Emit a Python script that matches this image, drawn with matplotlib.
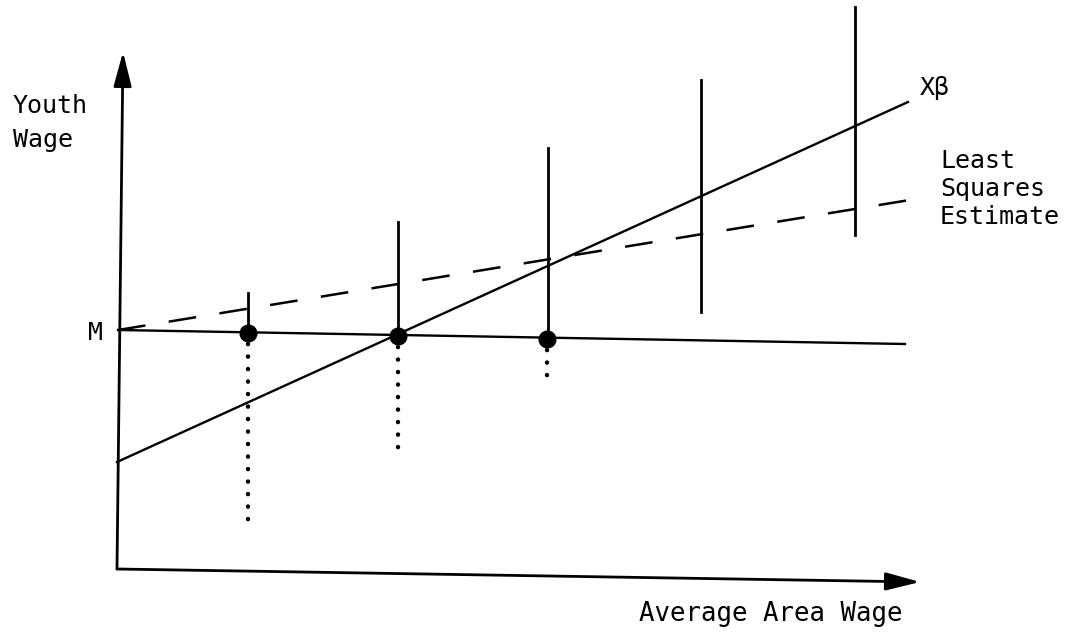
import matplotlib
matplotlib.use('Agg')
import matplotlib.pyplot as plt
from matplotlib.patches import FancyArrowPatch

plt.rcParams['font.family'] = ['DejaVu Sans Mono']
plt.rcParams['lines.scale_dashes'] = False

# axis ends (origin at the corner of the axes)
y_axis_top = (6, 517)
x_axis_end = (803, -13)

# flat line from M
m_line_x = [1, 788]
m_line_y = [239, 225]

# X-beta line
xb_x = [0, 791]
xb_y = [107, 467]

# least squares estimate (dashed)
ls_x = [1, 811]
ls_y = [239, 372]

# observed ranges (vertical bars)
bar_x = [131, 281, 431, 584, 738]
bar_top = [276, 347, 421, 489, 562]
bar_bottom = [236, 233, 230, 257, 334]

# censored points and their hidden (dotted) parts
dot_x = [131, 281, 430]
dot_y = [236, 233, 230]
dotted_low = [44, 119, 191]

fig = plt.figure(figsize=(10.76, 6.36), dpi=100)
ax = fig.add_axes([0, 0, 1, 1])
ax.set_xlim(-117, 959)
ax.set_ylim(-67, 569)
ax.axis('off')

# axes with arrowheads
for end in [y_axis_top, x_axis_end]:
    arr = FancyArrowPatch((0, 0), end, arrowstyle='-|>,head_length=21,head_width=5.5',
                          mutation_scale=1, lw=2.0, color='black',
                          shrinkA=0, shrinkB=0, transform=ax.transData)
    ax.add_patch(arr)

ax.plot(m_line_x, m_line_y, color='black', lw=1.7)
ax.plot(xb_x, xb_y, color='black', lw=1.7)
ls_line, = ax.plot(ls_x, ls_y, color='black', lw=1.8)
ls_line.set_dashes([20, 17])

for x, top, bot in zip(bar_x, bar_top, bar_bottom):
    ax.plot([x, x], [bot, top], color='black', lw=2.0)

for x, y, low in zip(dot_x, dot_y, dotted_low):
    d, = ax.plot([x, x], [y - 11, low], color='black', lw=3.2,
                 dash_capstyle='round', solid_capstyle='round')
    d.set_dashes([0.1, 8.9])
ax.plot(dot_x, dot_y, 'o', color='black', ms=12)

ts = 18
ax.text(-104, 456, 'Youth', fontsize=ts, ha='left', va='baseline')
ax.text(-104, 422, 'Wage', fontsize=ts, ha='left', va='baseline')
ax.text(-21, 236, 'M', fontsize=ts, ha='center', va='center')
ax.text(803, 481, 'X\u03b2', fontsize=ts, ha='left', va='center')
ax.text(823, 380, 'Least\nSquares\nEstimate', fontsize=ts, ha='left', va='center',
        linespacing=1.2)
ax.text(654, -45, 'Average Area Wage', fontsize=18.5, ha='center', va='center')

fig.savefig('out.png', dpi=100)
